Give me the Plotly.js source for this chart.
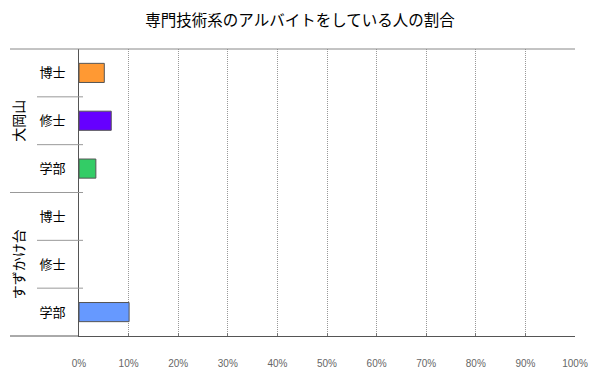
<!DOCTYPE html>
<html>
<head>
<meta charset="utf-8">
<script src="https://cdn.plot.ly/plotly-3.0.1.min.js"></script>
<style>html,body{margin:0;padding:0;background:#fff;}#chart{width:600px;height:374px;}</style>
</head>
<body>
<div id="chart"></div>
<script>
// Data
const title = '専門技術系のアルバイトをしている人の割合';
const groups = ['大岡山', '大岡山', '大岡山', 'すずかけ台', 'すずかけ台', 'すずかけ台'];
const degrees = ['博士', '修士', '学部', '博士', '修士', '学部'];
const values = [5.1, 6.5, 3.4, 0, 0, 10.1]; // percent
const barColors = ['#FF9933', '#6600FF', '#33CC66', '#FF9933', '#6600FF', '#6699FF'];
const xTicks = [0, 10, 20, 30, 40, 50, 60, 70, 80, 90, 100];
const xTickLabels = ['0%', '10%', '20%', '30%', '40%', '50%', '60%', '70%', '80%', '90%', '100%'];

const keys = groups.map((g, i) => g + '|' + degrees[i]);
const groupNames = [...new Set(groups)];

const trace = {
  type: 'bar',
  orientation: 'h',
  x: values,
  y: keys,
  width: 0.4,
  marker: {color: barColors, line: {color: '#555555', width: values.map(v => v > 0 ? 1 : 0)}},
  hoverinfo: 'x+y'
};

const L = 79, W = 496;
const px = p => (p - L) / W;

const shapes = [];
// top border
shapes.push({type: 'line', xref: 'paper', yref: 'paper', x0: px(10), x1: 1, y0: 1, y1: 1, line: {color: '#888888', width: 1}});
// bottom border extension
shapes.push({type: 'line', xref: 'paper', yref: 'paper', x0: px(10), x1: 0, y0: 0, y1: 0, line: {color: '#555555', width: 1}});
// dividers between categories
for (let i = 0; i < keys.length - 1; i++) {
  const sameGroup = groups[i] === groups[i + 1];
  shapes.push({type: 'line', xref: 'paper', yref: 'y', x0: sameGroup ? px(37) : px(10), x1: px(83), y0: i + 0.5, y1: i + 0.5,
    line: {color: '#999999', width: 1}});
}

const annotations = groupNames.map(g => {
  const idx = groups.map((x, i) => x === g ? i : -1).filter(i => i >= 0);
  const mid = (idx[0] + idx[idx.length - 1]) / 2;
  return {text: g, xref: 'paper', yref: 'y', x: px(18), y: mid, textangle: -90, showarrow: false,
    xanchor: 'center', yanchor: 'middle', font: {size: 14, color: '#000', family: 'Noto Sans CJK JP'}};
});

const layout = {
  width: 600, height: 374,
  margin: {l: 79, r: 25, t: 49, b: 38},
  paper_bgcolor: '#fff', plot_bgcolor: '#fff',
  font: {family: 'Noto Sans CJK JP', color: '#000'},
  title: {text: title, x: 0.5, xanchor: 'center', y: 1 - 21 / 374, yanchor: 'middle', yref: 'container',
    font: {size: 15.5, color: '#000', family: 'Noto Sans CJK JP'}},
  showlegend: false,
  bargap: 0.6,
  xaxis: {
    range: [0, 100], tickvals: xTicks, ticktext: xTickLabels,
    showgrid: true, gridcolor: '#999999', griddash: '1px,1px', gridwidth: 1,
    zeroline: false, showline: true, linecolor: '#555555', linewidth: 1,
    ticks: 'inside', ticklen: 3, tickcolor: '#777777',
    ticklabelstandoff: 18,
    tickfont: {size: 10, color: '#666666', family: 'Liberation Sans'}
  },
  yaxis: {
    type: 'category', autorange: 'reversed', tickvals: keys, ticktext: degrees,
    showgrid: false, zeroline: false, showline: true, linecolor: '#555555', linewidth: 1,
    ticks: '', ticklabelstandoff: 10,
    tickfont: {size: 13, color: '#000', family: 'Noto Sans CJK JP'}
  },
  shapes: shapes,
  annotations: annotations
};

Plotly.newPlot('chart', [trace], layout, {displayModeBar: false, staticPlot: true});
</script>
</body>
</html>
